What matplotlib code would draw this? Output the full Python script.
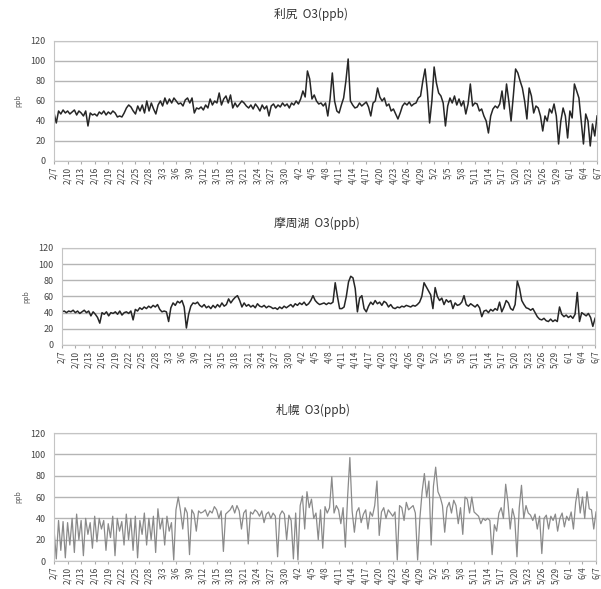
import numpy as np
import matplotlib
matplotlib.use("Agg")
import matplotlib.pyplot as plt

plt.rcParams['font.family'] = ['Noto Sans CJK JP', 'DejaVu Sans']

# half-day samples from 2/7 (day 0) to 6/7 (day 120)
rishiri = [
    48, 38, 50, 47, 51, 48,  50, 47, 49, 51, 46, 50,  48, 45, 50, 35, 48, 46,
    47, 45, 49, 47, 50, 46,  49, 47, 50, 48, 44, 45,  44, 48, 53, 56, 54, 50,
    47, 55, 50, 56, 48, 60,  50, 58, 52, 47, 56, 60,  55, 63, 57, 62, 58, 63,
    60, 57, 58, 55, 61, 63,  58, 63, 48, 53, 52, 54,  51, 56, 53, 62, 56, 60,
    58, 68, 56, 62, 65, 58,  66, 53, 58, 54, 57, 60,  58, 55, 53, 56, 52, 57,
    54, 50, 56, 52, 55, 45,  55, 57, 53, 56, 54, 58,  55, 57, 53, 58, 56, 60,
    57, 62, 70, 64, 90, 82,  62, 66, 60, 57, 58, 55,  58, 45, 62, 88, 60, 50,
    48, 56, 63, 80, 102, 60, 56, 53, 54, 58, 55, 57,  59, 54, 45, 58, 60, 73,
    64, 60, 63, 55, 57, 50,  52, 47, 42, 48, 55, 58,  56, 59, 55, 57, 58, 63,
    65, 80, 92, 70, 38, 60,  94, 78, 68, 65, 58, 35,  55, 63, 58, 65, 56, 62,
    55, 60, 47, 57, 77, 55,  58, 57, 50, 52, 45, 40,  28, 45, 52, 55, 53, 57,
    70, 52, 77, 60, 40, 65,  92, 88, 80, 73, 60, 42,  73, 65, 48, 55, 53, 45,
    30, 45, 40, 52, 48, 57,  45, 17, 40, 53, 45, 23,  50, 43, 77, 70, 63, 40,
    17, 47, 40, 15, 37, 25,  45,
]

mashu = [
    41, 42, 40, 42, 41, 43,  40, 42, 39, 41, 43, 40,  42, 36, 41, 38, 34, 27,
    40, 38, 41, 36, 40, 39,  41, 38, 42, 37, 40, 41,  39, 42, 31, 44, 42, 46,
    44, 47, 45, 48, 46, 49,  47, 50, 44, 41, 42, 41,  29, 46, 52, 49, 54, 52,
    55, 47, 21, 38, 48, 52,  51, 53, 49, 47, 50, 46,  48, 45, 49, 46, 50, 47,
    52, 48, 50, 57, 52, 56,  59, 61, 55, 47, 52, 48,  50, 47, 49, 46, 51, 48,
    47, 49, 46, 48, 47, 45,  46, 44, 47, 45, 48, 46,  48, 50, 47, 51, 49, 52,
    50, 53, 49, 51, 55, 61,  55, 52, 50, 51, 52, 50,  52, 51, 53, 77, 60, 45,
    45, 47, 60, 78, 85, 83,  70, 41, 58, 61, 45, 41,  48, 53, 50, 55, 51, 53,
    49, 54, 52, 47, 50, 46,  45, 47, 46, 48, 47, 49,  48, 47, 49, 48, 50, 53,
    60, 77, 72, 67, 62, 45,  71, 60, 55, 58, 50, 56,  53, 55, 45, 52, 49, 50,
    53, 61, 50, 48, 51, 49,  47, 50, 46, 35, 42, 43,  40, 44, 42, 45, 43, 53,
    41, 47, 55, 52, 45, 43,  50, 79, 70, 55, 50, 46,  45, 43, 45, 40, 35, 32,
    31, 33, 30, 29, 32, 29,  31, 29, 47, 38, 35, 37,  34, 36, 33, 38, 65, 29,
    40, 38, 36, 39, 34, 23,  33,
]

sapporo = [
    30, 2, 38, 10, 37, 3,    36, 15, 40, 8, 44, 20,   38, 5, 40, 25, 36, 12,
    42, 18, 40, 30, 38, 10,  35, 22, 42, 5, 40, 28,   37, 15, 44, 20, 40, 10,
    42, 3, 38, 25, 45, 15,   40, 20, 42, 8, 49, 30,   40, 15, 42, 28, 36, 1,
    48, 60, 47, 30, 50, 45,  6, 48, 44, 28, 47, 45,   46, 48, 42, 47, 45, 51,
    48, 40, 47, 9, 44, 46,   48, 52, 45, 52, 47, 30,  45, 48, 16, 46, 44, 48,
    46, 42, 47, 36, 44, 46,  40, 45, 42, 4, 43, 47,   44, 20, 43, 38, 2, 45,
    1, 52, 61, 30, 65, 50,   58, 40, 45, 20, 48, 12,  51, 45, 50, 79, 45, 52,
    48, 35, 50, 13, 60, 97,  47, 27, 46, 50, 36, 44,  48, 30, 46, 42, 52, 75,
    24, 46, 50, 40, 48, 45,  42, 46, 1, 52, 50, 38,   55, 48, 50, 52, 45, 1,
    40, 65, 82, 60, 75, 15,  70, 88, 65, 60, 52, 27,  50, 55, 45, 57, 52, 35,
    50, 25, 60, 58, 45, 60,  46, 44, 42, 35, 40, 38,  40, 38, 6, 34, 28, 45,
    50, 40, 72, 55, 30, 49,  40, 4, 50, 71, 40, 52,   45, 43, 38, 44, 30, 42,
    7, 40, 43, 30, 42, 38,   44, 28, 40, 45, 32, 42,  38, 46, 30, 55, 68, 45,
    60, 40, 65, 49, 48, 30,  46,
]

tick_labels = [
    '2/7', '2/10', '2/13', '2/16', '2/19', '2/22', '2/25', '2/28', '3/3', '3/6',
    '3/9', '3/12', '3/15', '3/18', '3/21', '3/24', '3/27', '3/30', '4/2', '4/5',
    '4/8', '4/11', '4/14', '4/17', '4/20', '4/23', '4/26', '4/29', '5/2', '5/5',
    '5/8', '5/11', '5/14', '5/17', '5/20', '5/23', '5/26', '5/29', '6/1', '6/4',
    '6/7',
]

panels = [
    ('利尻  O3(ppb)', rishiri, '#262626', 1.1, [0.0899, 0.7267, 0.9035, 0.2037], 0.975, 0.517),
    ('摩周湖  O3(ppb)', mashu, '#262626', 1.1, [0.1032, 0.4143, 0.8869, 0.1647], 0.621, 0.527),
    ('札幌  O3(ppb)', sapporo, '#8a8a8a', 0.9, [0.0899, 0.0475, 0.9018, 0.2173], 0.304, 0.52),
]

fig = plt.figure(figsize=(6.01, 5.89), dpi=100)

for title, vals, col, lw, rect, ty, tx in panels:
    ax = fig.add_axes(rect)
    days = np.arange(len(vals)) * 0.5
    ax.plot(days, vals, color=col, lw=lw)
    ax.set_xlim(0, 120)
    ax.set_ylim(0, 120)
    ax.set_yticks(np.arange(0, 121, 20))
    ax.set_xticks(np.arange(0, 121, 3))
    ax.set_xticklabels(tick_labels, rotation=90, fontsize=6, color='#444444')
    ax.tick_params(axis='y', labelsize=6.5, labelcolor='#444444', length=0, pad=6)
    ax.tick_params(axis='x', length=2, color='#aaaaaa', pad=2)
    ax.set_axisbelow(True)
    ax.yaxis.grid(True, color='#b5b5b5', lw=1)
    for s in ax.spines.values():
        s.set_color('#c4c4c4')
    ax.set_ylabel('ppb', fontsize=5, color='#555555', labelpad=6)
    fig.text(tx, ty, title, ha='center', va='center', fontsize=8.5, color='#333333')

fig.savefig('out.png', dpi=100)
